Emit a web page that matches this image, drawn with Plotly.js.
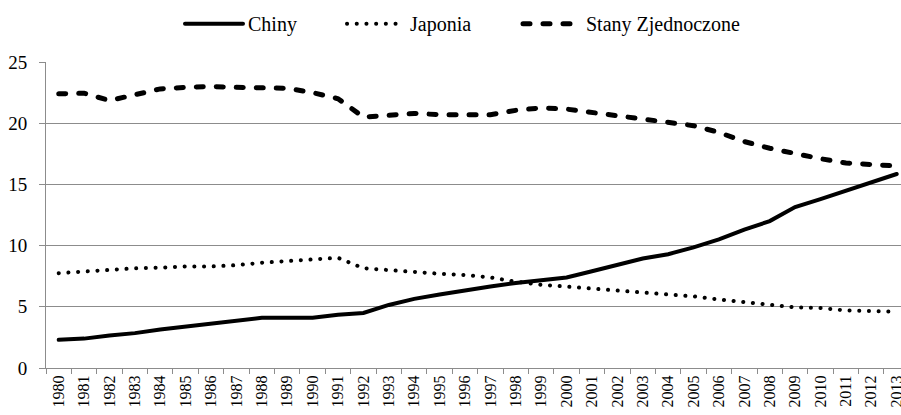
<!DOCTYPE html>
<html>
<head>
<meta charset="utf-8">
<script src="https://cdn.plot.ly/plotly-3.0.1.min.js"></script>
<style>
html,body{margin:0;padding:0;background:#fff;}
#chart{width:901px;height:415px;}
path.js-line{stroke-linecap:round;}
</style>
</head>
<body>
<div id="chart"></div>
<script>
const years = ["1980","1981","1982","1983","1984","1985","1986","1987","1988","1989","1990","1991","1992","1993","1994","1995","1996","1997","1998","1999","2000","2001","2002","2003","2004","2005","2006","2007","2008","2009","2010","2011","2012","2013"];
const chiny = [2.3,2.4,2.65,2.85,3.15,3.4,3.6,3.9,4.1,4.1,4.1,4.35,4.5,5.15,5.65,6.0,6.35,6.65,6.95,7.2,7.4,7.9,8.45,8.95,9.3,9.85,10.5,11.3,12.0,13.15,13.8,14.5,15.2,15.85];
const japonia = [7.75,7.9,8.05,8.15,8.2,8.3,8.3,8.4,8.6,8.75,8.9,9.0,8.15,8.0,7.8,7.7,7.6,7.4,7.05,6.8,6.65,6.5,6.35,6.2,6.05,5.85,5.6,5.4,5.2,4.95,4.9,4.7,4.65,4.6];
const usa = [22.4,22.45,21.85,22.3,22.8,22.93,23.0,22.93,22.9,22.85,22.5,22.0,20.5,20.65,20.8,20.7,20.65,20.7,21.05,21.25,21.15,20.9,20.65,20.4,20.1,19.8,19.25,18.5,17.95,17.5,17.1,16.75,16.6,16.5];
const names = ["Chiny","Japonia","Stany Zjednoczone"];
const yTicks = [0,5,10,15,20,25];

const font = "Times New Roman, Liberation Serif, Tinos, DejaVu Serif, serif";
const traces = [
  {x: years, y: chiny, name: names[0], type: "scatter", mode: "lines", legend: "legend",
   line: {color: "#000", width: 4}},
  {x: years, y: japonia, name: names[1], type: "scatter", mode: "lines", legend: "legend2",
   line: {color: "#000", width: 4, dash: "0.1px,9.6px"}},
  {x: years, y: usa, name: names[2], type: "scatter", mode: "lines", legend: "legend3",
   line: {color: "#000", width: 5, dash: "7px,13px"}}
];
function leg(px) {
  return {orientation: "h", xref: "container", yref: "container", x: px / 901, xanchor: "left",
          y: 0.99, yanchor: "top", font: {family: font, size: 20, color: "#000"},
          itemwidth: 58, bgcolor: "rgba(0,0,0,0)"};
}
const layout = {
  width: 901, height: 415,
  margin: {l: 46, r: 0, t: 62, b: 47, pad: 0},
  paper_bgcolor: "#fff", plot_bgcolor: "#fff",
  font: {family: font, size: 16, color: "#000"},
  showlegend: true,
  legend: leg(180), legend2: leg(342), legend3: leg(518),
  xaxis: {type: "category", range: [-0.5, 33.17], showgrid: false, zeroline: false,
          showline: true, linecolor: "#8c8c8c", linewidth: 1,
          ticks: "outside", tickson: "boundaries", ticklen: 5, tickcolor: "#8c8c8c",
          tickangle: -90, tickfont: {family: font, size: 16, color: "#000"}},
  yaxis: {range: [0, 25], tickvals: yTicks, ticktext: yTicks.map(String),
          showgrid: true, gridcolor: "#8c8c8c", gridwidth: 1, zeroline: false,
          showline: true, linecolor: "#8c8c8c", linewidth: 1,
          ticks: "outside", ticklen: 6, tickcolor: "#8c8c8c", ticklabelstandoff: 8,
          tickfont: {family: font, size: 19, color: "#000"}}
};
Plotly.newPlot("chart", traces, layout, {displayModeBar: false, staticPlot: true});
</script>
</body>
</html>
